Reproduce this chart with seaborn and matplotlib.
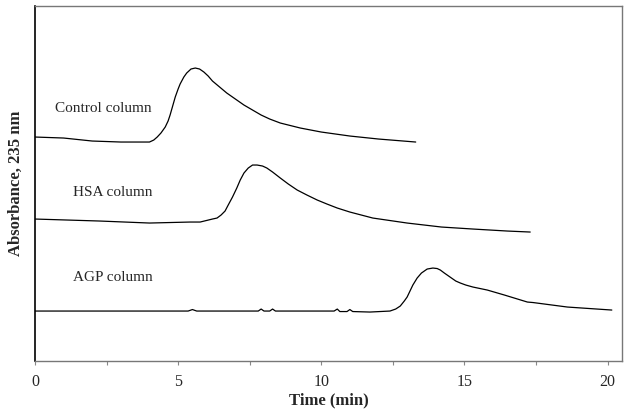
import matplotlib
matplotlib.use("Agg")
import matplotlib.pyplot as plt
import seaborn as sns
import pandas as pd

# chromatogram traces (time in min, absorbance in arbitrary offset units)
control_t = [0.0, 1.0, 2.0, 3.0, 3.9, 4.0, 4.15, 4.27, 4.4, 4.55, 4.65, 4.72, 4.8,
             4.9, 5.0, 5.07, 5.2, 5.3, 5.45, 5.6, 5.75, 5.9, 6.05, 6.2, 6.45, 6.7,
             7.0, 7.3, 7.6, 7.9, 8.2, 8.57, 9.27, 10.0, 11.0, 12.0, 13.3]
control_y = [224, 223, 220, 219, 219, 219, 221, 224, 228, 234, 240, 246, 254,
             264, 272, 277, 284, 288, 292, 293, 292, 289, 285, 280, 274, 268,
             262, 256, 251, 246, 242, 238, 233, 229, 225, 222, 219]

hsa_t = [0.0, 2.27, 4.0, 5.42, 5.77, 6.2, 6.36, 6.5, 6.64, 6.75, 6.9, 7.05, 7.17,
         7.3, 7.45, 7.6, 7.76, 7.95, 8.1, 8.3, 8.57, 8.85, 9.16, 9.5, 9.86,
         10.2, 10.56, 11.0, 11.8, 13.0, 14.2, 15.3, 16.5, 17.3]
hsa_y = [142, 140, 138, 139, 139, 142, 143, 146, 150, 156, 164, 173, 181,
         188, 193, 196, 196, 195, 193, 189, 183, 177, 171, 166, 161,
         157, 153, 149, 143, 138, 134, 132, 130, 129]

agp_t = [0.0, 2.0, 4.0, 5.35, 5.5, 5.65, 7.0, 7.8, 7.9, 8.0, 8.2, 8.3, 8.4, 9.5,
         10.45, 10.56, 10.65, 10.9, 11.0, 11.1, 11.7, 12.4, 12.6, 12.76, 12.9,
         13.0, 13.1, 13.2, 13.35, 13.5, 13.7, 13.9, 14.05, 14.16, 14.3, 14.5,
         14.7, 14.86, 15.05, 15.3, 15.8, 16.4, 17.2, 17.4, 18.6, 20.15]
agp_y = [50, 50, 50, 50, 51.5, 50, 50, 50, 52, 50, 50, 52, 50, 50,
         50, 52, 49.5, 49.5, 51.5, 49.5, 49, 50, 52, 55, 60,
         64, 70, 76, 83, 88, 92, 93, 92.5, 91, 88, 84,
         80, 78, 76, 74, 71, 66, 59, 58.5, 54, 51]

labels = ["Control column", "HSA column", "AGP column"]
label_t = [0.7, 1.33, 1.33]
label_y = [253, 169, 84]

df = pd.concat([
    pd.DataFrame({"t": control_t, "a": control_y, "trace": "control"}),
    pd.DataFrame({"t": hsa_t, "a": hsa_y, "trace": "hsa"}),
    pd.DataFrame({"t": agp_t, "a": agp_y, "trace": "agp"}),
])

sns.set_style("white")
plt.rcParams["font.family"] = ["Liberation Serif", "DejaVu Serif"]

fig = plt.figure(figsize=(6.29, 4.15), dpi=100)
ax = fig.add_axes([0.0556, 0.130, 0.933, 0.8555])

for name, grp in df.groupby("trace", sort=False):
    sns.lineplot(data=grp, x="t", y="a", ax=ax, color="black", linewidth=0.9,
                 estimator=None, sort=False)

for txt, tx, ty in zip(labels, label_t, label_y):
    ax.text(tx, ty, txt, fontsize=11, va="center", ha="left")

ax.set_xlim(0, 20.5)
ax.set_ylim(0, 355)
ax.set_xticks([0, 5, 10, 15, 20])
ax.set_xticks([2.5, 7.5, 12.5, 17.5], minor=True)
ax.set_xticklabels(["0", "5", "10", "15", "20"], fontsize=11.5)
ax.tick_params(axis="x", which="both", direction="out", length=3, width=0.8,
               color="#888888", bottom=True, pad=6)
ax.set_yticks([])
ax.set_xlabel("Time (min)", fontsize=12, fontweight="bold", labelpad=2)
ax.set_ylabel("Absorbance, 235 nm", fontsize=12, fontweight="bold", labelpad=8)

for side in ["top", "right", "bottom"]:
    ax.spines[side].set_color("#777777")
    ax.spines[side].set_linewidth(1.0)
ax.spines["left"].set_color("black")
ax.spines["left"].set_linewidth(1.2)

fig.savefig("out.png", dpi=100)
plt.close()
